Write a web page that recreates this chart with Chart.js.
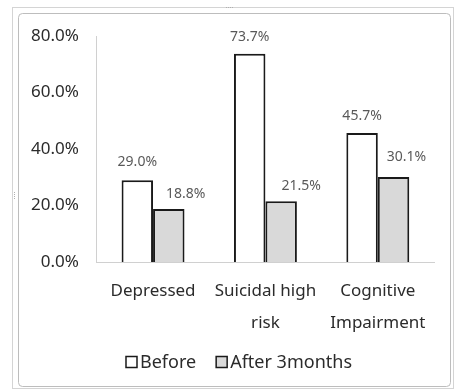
<!DOCTYPE html>
<html>
<head>
<meta charset="utf-8">
<script src="https://cdn.jsdelivr.net/npm/chart.js@4"></script>
<style>
  html, body { margin: 0; padding: 0; background: #fff; }
  #wrap { width: 454px; height: 390px; position: relative; }
</style>
</head>
<body>
<div id="wrap"><canvas id="c" width="454" height="390"></canvas></div>
<script>
const categories = [['Depressed'], ['Suicidal high', 'risk'], ['Cognitive', 'Impairment']];
const beforeValues = [29.0, 73.7, 45.7];
const afterValues = [18.8, 21.5, 30.1];
const yTicks = [0, 20, 40, 60, 80];

const FONT = '"Noto Sans", "DejaVu Sans", sans-serif';
const TEXT = '#2b2b2b';

// Panel frame behind the chart
const framePlugin = {
  id: 'frame',
  beforeDraw(chart) {
    const ctx = chart.ctx;
    ctx.save();
    ctx.fillStyle = '#ffffff';
    ctx.fillRect(0, 0, chart.width, chart.height);
    ctx.strokeStyle = '#d4d4d4';
    ctx.lineWidth = 1;
    ctx.strokeRect(12.5, 7.5, 441, 381);
    ctx.strokeStyle = '#bdbdbd';
    ctx.beginPath();
    ctx.roundRect(18.5, 13.5, 432, 373, 4);
    ctx.stroke();
    // small grip marks
    ctx.fillStyle = '#b0b0b0';
    for (let i = 0; i < 4; i++) ctx.fillRect(226 + i * 2, 7, 1, 1);
    for (let i = 0; i < 4; i++) ctx.fillRect(14, 192 + i * 2, 1, 1);
    ctx.restore();
  }
};

// Value labels above each bar (label offsets per dataset / point)
const labelOffsets = [
  { dx: [0, 0, 0], gap: [11, 10, 10] },
  { dx: [17, 20, 13], gap: [8, 8, 13] }
];
const valueLabels = {
  id: 'valueLabels',
  afterDatasetsDraw(chart) {
    const ctx = chart.ctx;
    ctx.save();
    ctx.font = '14px ' + FONT;
    ctx.fillStyle = '#595959';
    ctx.textAlign = 'center';
    ctx.textBaseline = 'bottom';
    chart.data.datasets.forEach((ds, di) => {
      const off = labelOffsets[di];
      chart.getDatasetMeta(di).data.forEach((bar, i) => {
        ctx.fillText(ds.data[i].toFixed(1) + '%', bar.x + off.dx[i], bar.y - off.gap[i]);
      });
    });
    ctx.restore();
  }
};

// Legend row below the category labels
const legendRow = {
  id: 'legendRow',
  afterDraw(chart) {
    const ctx = chart.ctx;
    const y = 362;
    const box = 11, gapText = 3, gapItem = 20;
    ctx.save();
    ctx.font = '18px ' + FONT;
    ctx.textBaseline = 'middle';
    const items = chart.data.datasets.map(ds => ({
      text: ds.label, fill: ds.backgroundColor, w: box + gapText + ctx.measureText(ds.label).width
    }));
    const total = items.reduce((s, it) => s + it.w, 0) + gapItem * (items.length - 1);
    let x = 239 - total / 2;
    items.forEach(it => {
      ctx.fillStyle = it.fill;
      ctx.fillRect(x, y - box / 2, box, box);
      ctx.strokeStyle = '#1a1a1a';
      ctx.lineWidth = 1.5;
      ctx.strokeRect(x, y - box / 2, box, box);
      ctx.fillStyle = TEXT;
      ctx.textAlign = 'left';
      ctx.fillText(it.text, x + box + gapText, y + 1);
      x += it.w + gapItem;
    });
    ctx.restore();
  }
};

new Chart(document.getElementById('c'), {
  type: 'bar',
  data: {
    labels: categories,
    datasets: [
      {
        label: 'Before',
        data: beforeValues,
        backgroundColor: '#ffffff',
        borderColor: '#1a1a1a',
        borderWidth: 2,
        borderSkipped: 'bottom',
        categoryPercentage: 0.56,
        barPercentage: 1.0
      },
      {
        label: 'After 3months',
        data: afterValues,
        backgroundColor: '#d9d9d9',
        borderColor: '#1a1a1a',
        borderWidth: 2,
        borderSkipped: 'bottom',
        categoryPercentage: 0.56,
        barPercentage: 1.0
      }
    ]
  },
  options: {
    responsive: false,
    animation: false,
    devicePixelRatio: 1,
    layout: { padding: { left: 13, right: 20, top: 36, bottom: 38 } },
    plugins: {
      tooltip: { enabled: false },
      legend: { display: false }
    },
    scales: {
      x: {
        grid: { display: false, drawTicks: false },
        border: { display: true, color: '#d0d0d0', width: 1 },
        ticks: {
          color: TEXT,
          font: { family: FONT, size: 17, lineHeight: 1.88 },
          padding: 13,
          maxRotation: 0,
          autoSkip: false
        }
      },
      y: {
        min: 0,
        max: 80,
        grid: { display: false, drawTicks: false },
        border: { display: true, color: '#d0d0d0', width: 1 },
        afterBuildTicks(axis) { axis.ticks = yTicks.map(v => ({ value: v })); },
        ticks: {
          color: TEXT,
          font: { family: FONT, size: 17 },
          padding: 18,
          callback: v => v.toFixed(1) + '%'
        }
      }
    }
  },
  plugins: [framePlugin, valueLabels, legendRow]
});
</script>
</body>
</html>
